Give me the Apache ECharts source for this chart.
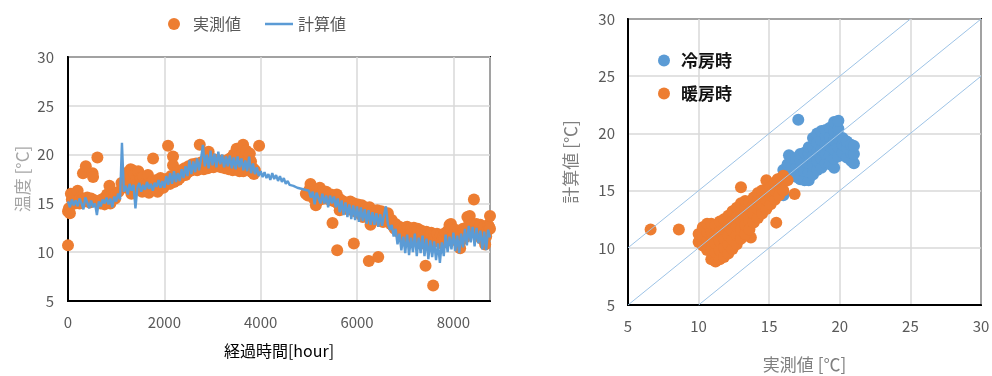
<!DOCTYPE html>
<html>
<head>
<meta charset="utf-8">
<script src="https://cdn.jsdelivr.net/npm/echarts@6/dist/echarts.min.js"></script>
<style>
  html, body { margin: 0; padding: 0; background: #fff; }
  #main { width: 992px; height: 376px; }
</style>
</head>
<body>
<div id="main"></div>
<script>
// 左: 経過時間ごとの温度
var calcStep = 40; // 計算値の時間間隔[hour]
var calcTemp = [
  15.2, 14.6, 15.4, 14.8, 15.3, 14.7, 15.5, 15.0, 14.4, 15.6,
  15.1, 14.5, 15.3, 14.6, 15.0, 13.8, 15.2, 14.7, 15.4, 15.0,
  15.6, 14.9, 15.5, 14.6, 15.7, 15.2, 16.0, 15.4, 21.2, 16.2,
  16.8, 15.9, 17.0, 16.3, 16.9, 14.5, 16.6, 17.1, 16.2, 16.9,
  16.4, 17.2, 16.5, 17.0, 16.3, 17.1, 16.7, 17.4, 16.6, 17.3,
  16.6, 17.8, 16.9, 18.1, 17.0, 18.3, 17.2, 18.1, 17.3, 18.5,
  17.6, 18.8, 17.8, 19.4, 18.0, 19.3, 18.2, 19.6, 18.4, 19.5,
  21.0, 18.8, 20.0, 18.6, 20.4, 18.9, 20.1, 18.7, 20.3, 19.0,
  20.0, 18.7, 19.8, 18.8, 19.9, 18.6, 19.7, 18.5, 19.8, 18.7,
  19.6, 18.4, 19.4, 18.3, 19.8, 18.1, 19.1, 18.0, 18.7, 17.8,
  18.3, 17.7, 18.2, 17.6, 18.0, 17.4, 18.1, 17.5, 17.9, 17.3,
  17.8, 17.2, 17.6, 17.0, 17.3, 16.9, 16.8, 16.8, 16.7, 16.6,
  16.6, 16.5, 16.5, 16.4, 16.3, 16.3, 15.6, 16.2, 14.9, 16.1,
  15.9, 15.0, 16.0, 15.0, 15.8, 14.6, 15.8, 15.0, 15.7, 14.6,
  15.5, 14.1, 15.3, 13.8, 15.1, 13.6, 14.9, 13.4, 14.8, 13.3,
  14.7, 13.1, 14.6, 13.2, 14.4, 12.9, 14.3, 12.8, 14.1, 12.8,
  14.0, 12.6, 13.9, 12.7, 13.8, 14.7, 12.9, 12.3, 12.8, 11.6,
  12.4, 10.8, 11.9, 10.2, 11.6, 9.9, 11.8, 9.7, 11.5, 10.0,
  11.9, 9.6, 11.5, 9.9, 11.7, 9.6, 11.4, 9.3, 11.2, 9.5,
  11.1, 9.2, 10.9, 8.9, 11.0, 9.6, 11.8, 10.0, 11.6, 10.3,
  12.0, 10.1, 11.7, 9.9, 11.9, 10.5, 12.4, 10.7, 12.7, 11.0,
  12.6, 10.6, 12.5, 10.9, 12.2, 10.3, 12.1, 10.2, 12.3, 11.5
];

// 実測値 [hour, ℃]
var measured = [
  [0,14.2],[0,10.7],[20,14.5],[40,14.0],[60,16.0],[80,15.4],[100,15.2],[120,15.9],[140,15.0],
  [160,15.6],[180,15.4],[200,16.3],[240,15.0],[260,15.6],[300,15.4],[311,18.1],[340,15.2],
  [370,18.8],[400,15.6],[420,15.3],[450,15.1],[480,15.5],[510,18.1],[520,17.7],[560,15.3],
  [600,15.2],[610,19.7],[650,15.1],[680,15.0],[700,15.4],[740,15.5],[760,14.9],[810,15.9],
  [840,15.6],[860,16.8],[880,15.0],[900,15.3],[920,15.8],[950,15.6],[980,15.5],
  [1000,16.0],[1050,16.2],[1109,17.1],[1150,16.8],[1200,17.5],[1220,16.6],[1240,18.2],
  [1260,17.0],[1280,17.9],[1300,18.5],[1316,16.0],[1340,18.4],[1360,17.1],[1380,18.0],
  [1400,16.5],[1420,17.4],[1440,17.0],[1460,18.3],[1480,16.8],[1500,17.6],[1520,17.5],
  [1540,16.2],[1560,17.7],[1580,17.0],[1600,16.4],[1620,16.5],[1640,16.9],[1660,17.9],
  [1680,16.1],[1700,16.3],[1720,16.5],[1740,17.2],[1766,19.6],[1780,16.4],[1800,16.6],
  [1820,16.9],[1840,17.4],[1860,16.2],[1880,16.8],[1900,16.5],[1920,17.6],[1940,16.7],
  [1960,17.2],[1980,16.6],
  [2000,17.0],[2020,16.9],[2040,17.5],[2060,17.2],[2077,20.9],[2100,17.3],[2120,17.0],
  [2140,17.8],[2160,17.4],[2180,19.8],[2180,18.9],[2200,17.2],[2220,17.6],[2240,17.5],
  [2260,18.2],[2280,17.4],[2300,17.9],[2320,17.6],[2340,18.4],[2360,17.8],[2380,18.1],
  [2400,17.9],[2420,18.6],[2440,17.9],[2460,18.3],[2480,18.2],[2500,18.8],[2520,18.3],
  [2540,18.4],[2560,18.4],[2580,19.0],[2600,18.5],[2620,18.6],[2640,18.5],[2660,19.1],
  [2680,18.4],[2700,18.7],[2720,18.6],[2735,21.0],[2760,19.2],[2780,18.6],[2800,18.9],
  [2820,18.5],[2840,19.4],[2860,18.7],[2880,18.8],[2900,18.6],[2920,20.3],[2940,18.7],
  [2960,19.2],[2980,18.8],[3000,18.9],[3020,18.7],[3040,19.5],[3060,18.9],[3080,19.0],
  [3100,18.8],[3120,19.3],[3140,18.8],[3160,18.9],[3180,18.7],[3200,19.4],[3220,18.8],
  [3240,19.0],[3260,18.6],[3280,19.3],[3300,18.7],[3320,18.8],[3340,18.5],[3360,19.6],
  [3380,18.7],[3400,19.2],[3420,18.4],[3440,20.0],[3460,18.6],[3480,18.7],[3500,20.6],
  [3520,18.5],[3540,19.8],[3560,18.3],[3580,18.4],[3600,19.5],[3620,20.2],[3635,21.0],
  [3640,18.3],[3660,19.0],[3680,19.8],[3700,20.4],[3720,18.6],[3740,18.5],[3760,19.4],
  [3775,20.1],[3800,19.3],[3820,18.2],[3840,18.6],[3860,18.0],[3880,18.4],[3967,20.9],
  [4937,16.0],[4980,15.8],[5010,16.4],[5034,17.0],[5060,16.6],[5080,16.2],[5100,15.5],
  [5120,15.9],[5145,14.8],[5160,15.8],[5180,16.3],[5200,16.0],[5228,16.6],[5240,15.4],
  [5260,15.6],[5280,16.3],[5300,16.1],[5320,15.5],[5340,15.8],[5360,16.2],[5380,16.0],
  [5400,15.9],[5420,15.4],[5440,15.8],[5460,15.9],[5480,15.3],[5491,13.0],[5520,15.5],
  [5540,15.2],[5560,15.7],[5580,15.9],[5588,10.2],[5600,15.0],[5620,15.5],[5640,14.3],
  [5660,14.8],[5680,15.3],[5700,15.2],[5720,14.8],[5740,14.6],[5760,15.1],[5780,15.0],
  [5800,14.4],[5820,14.7],[5840,14.9],[5860,15.2],[5880,14.6],[5900,14.3],[5920,14.8],
  [5934,10.9],[5940,15.0],[5960,14.2],[5980,14.5],[6000,14.7],[6020,14.9],[6040,14.0],
  [6060,14.3],[6080,14.5],[6100,14.8],[6120,13.6],[6140,14.2],[6160,14.6],[6180,14.5],
  [6200,13.9],[6220,13.6],[6240,14.3],[6245,9.1],[6260,14.6],[6280,12.8],[6300,13.4],
  [6320,14.2],[6340,14.0],[6360,13.5],[6380,13.7],[6400,14.1],[6420,14.3],[6440,9.5],
  [6440,13.3],[6460,13.6],[6480,13.9],[6500,14.2],[6520,13.4],[6540,13.1],[6560,13.8],
  [6580,14.0],[6600,13.6],[6620,13.9],[6640,14.0],[6660,13.5],[6680,13.2],[6700,12.9],
  [6720,13.3],[6740,13.0],[6760,12.6],[6780,12.4],[6800,12.9],[6820,12.7],[6840,12.3],
  [6860,12.1],[6880,12.6],[6900,12.4],[6920,11.8],[6940,12.0],[6960,12.4],[6980,12.5],
  [7000,11.6],[7020,12.1],[7040,12.6],[7060,12.3],[7080,11.9],[7100,11.7],[7120,12.4],
  [7140,12.0],[7160,11.4],[7180,12.5],[7200,12.3],[7220,11.6],[7240,11.8],[7260,12.4],
  [7280,12.2],[7300,11.7],[7320,10.9],[7340,12.2],[7360,12.0],[7380,11.8],[7400,11.5],
  [7420,12.0],[7422,8.6],[7440,12.1],[7460,11.8],[7480,11.3],[7500,11.6],[7520,11.9],
  [7540,12.0],[7560,11.0],[7580,6.6],[7600,11.8],[7620,11.2],[7640,11.5],[7660,11.9],
  [7680,11.1],[7700,11.3],[7720,11.6],[7740,11.8],[7760,10.9],[7780,11.4],[7800,11.7],
  [7820,11.3],[7840,12.0],[7860,11.9],[7880,11.2],[7900,12.3],[7920,12.8],[7940,11.4],
  [7950,12.9],[7960,12.4],[7980,11.6],[8000,11.8],[8020,12.0],[8040,12.3],[8060,11.2],
  [8080,11.7],[8100,12.1],[8120,11.9],[8140,10.4],[8160,11.2],[8180,11.6],[8200,12.4],
  [8220,12.2],[8240,11.5],[8260,11.9],[8280,12.4],[8290,13.6],[8320,12.8],[8340,13.7],
  [8360,12.2],[8380,12.5],[8400,12.9],[8426,15.4],[8440,12.4],[8460,12.8],[8480,12.9],
  [8500,12.3],[8520,12.1],[8540,12.6],[8560,12.8],[8580,11.4],[8600,12.0],[8620,12.5],
  [8640,12.6],[8660,10.8],[8680,11.6],[8700,12.2],[8720,12.8],[8740,12.6],[8760,13.7],
  [8760,12.4]
];

// 右: 実測値 vs 計算値 [℃]
var coolPts = [
  [16.0,14.6],[17.06,21.2],
  [16.0,16.2],[16.0,16.8],[16.3,16.5],[16.3,17.3],[16.4,18.1],[16.6,16.3],[16.6,17.1],
  [16.6,17.9],[16.9,16.2],[16.9,17.0],[16.9,17.8],[17.2,16.0],[17.2,16.8],[17.2,17.6],
  [17.2,18.2],[17.5,15.9],[17.5,16.7],[17.5,17.5],[17.5,18.3],[17.8,15.9],[17.8,16.6],
  [17.8,17.4],[17.8,18.2],[17.8,18.8],[18.1,16.4],[18.1,17.2],[18.1,18.0],[18.1,18.8],
  [18.1,19.6],[18.4,16.8],[18.4,17.6],[18.4,18.4],[18.4,19.2],[18.4,20.0],[18.7,17.0],
  [18.7,17.8],[18.7,18.6],[18.7,19.4],[18.7,20.2],[19.0,17.4],[19.0,18.2],[19.0,19.0],
  [19.0,19.8],[19.0,20.3],[19.3,17.3],[19.3,18.1],[19.3,18.9],[19.3,19.7],[19.3,20.5],
  [19.6,17.0],[19.6,17.8],[19.6,18.6],[19.6,19.4],[19.6,20.2],[19.6,21.0],[19.9,18.0],
  [19.9,18.8],[19.9,19.6],[19.9,20.4],[19.9,21.1],[20.2,18.3],[20.2,19.0],[20.2,19.6],
  [20.5,17.9],[20.5,18.7],[20.5,19.3],[20.8,17.6],[20.8,18.3],[20.8,19.0],[21.0,17.4],
  [21.0,18.2],[21.0,18.9]
];
var heatPts = [
  [6.6,11.6],[8.6,11.6],[13.0,15.3],[15.5,12.2],[13.7,10.9],[16.8,14.7],[14.8,15.9],
  [10.0,10.5],[10.0,11.2],[10.3,10.2],[10.3,11.0],[10.3,11.8],[10.6,9.8],[10.6,10.6],
  [10.6,11.4],[10.6,12.1],[10.9,9.0],[10.9,9.8],[10.9,10.6],[10.9,11.4],[10.9,12.1],
  [11.2,8.8],[11.2,9.6],[11.2,10.4],[11.2,11.2],[11.2,12.0],[11.5,9.0],[11.5,9.8],
  [11.5,10.6],[11.5,11.4],[11.5,12.3],[11.8,9.2],[11.8,10.0],[11.8,10.8],[11.8,11.6],
  [11.8,12.5],[12.1,9.5],[12.1,10.3],[12.1,11.1],[12.1,11.9],[12.1,12.8],[12.4,9.9],
  [12.4,10.7],[12.4,11.5],[12.4,12.3],[12.4,13.2],[12.7,10.3],[12.7,11.1],[12.7,11.9],
  [12.7,12.7],[12.7,13.5],[13.0,10.8],[13.0,11.6],[13.0,12.4],[13.0,13.2],[13.0,13.9],
  [13.3,11.2],[13.3,12.0],[13.3,12.8],[13.3,13.6],[13.3,14.1],[13.6,11.6],[13.6,12.4],
  [13.6,13.2],[13.6,14.0],[13.9,12.2],[13.9,13.0],[13.9,13.8],[13.9,14.4],[14.2,12.6],
  [14.2,13.4],[14.2,14.2],[14.2,14.8],[14.5,13.0],[14.5,13.8],[14.5,14.6],[14.5,15.0],
  [14.8,13.4],[14.8,14.2],[14.8,15.0],[15.1,13.8],[15.1,14.6],[15.1,15.3],[15.4,14.2],
  [15.4,15.0],[15.4,15.7],[15.7,14.6],[15.7,15.4],[15.7,16.0],[16.0,15.0],[16.0,15.8],
  [16.0,16.3],[16.3,15.9],[15.6,16.0]
];
var refOffsets = [5, 0, -5]; // y = x + offset の基準線

var leftTicks = [0, 2000, 4000, 6000, 8000];

// 計算値を [hour, ℃] に
var calcData = calcTemp.map(function (v, i) { return [i * calcStep, v]; });

// 基準線（軸範囲 5〜30 でクリップ）
function refLine(off) {
  var x0 = Math.max(5, 5 - off), x1 = Math.min(30, 30 - off);
  return [[x0, x0 + off], [x1, x1 + off]];
}

var tickFont = { color: '#595959', fontSize: 15, fontFamily: 'Noto Sans CJK JP' };
var gridLine = { show: true, lineStyle: { color: '#D9D9D9', width: 1.5 } };
var blackLine = { show: true, lineStyle: { color: '#000', width: 2 } };

var dom = echarts.init(document.getElementById('main'));

var option = {
  backgroundColor: '#fff',
  animation: false,
  textStyle: { fontFamily: 'Noto Sans CJK JP' },
  legend: [{
    data: [{ name: '実測値', icon: 'circle' }],
    left: 168, top: 16, padding: 0,
    itemWidth: 28, itemHeight: 12,
    textStyle: { color: '#595959', fontSize: 16 }
  }, {
    data: [{ name: '計算値', icon: 'rect' }],
    left: 265, top: 16, padding: 0,
    itemWidth: 28, itemHeight: 2.5,
    textStyle: { color: '#595959', fontSize: 16 }
  }, {
    data: [{ name: '冷房時', icon: 'circle' }, { name: '暖房時', icon: 'circle' }],
    orient: 'vertical',
    left: 658, top: 52, padding: 0,
    itemWidth: 24, itemHeight: 12, itemGap: 16,
    textStyle: { color: '#111', fontSize: 17, fontWeight: 'bold' }
  }],
  grid: [
    { left: 68, top: 57, width: 422, height: 244, show: true, borderColor: '#000', borderWidth: 2,
      outerBoundsMode: 'none', containLabel: false },
    { left: 628, top: 19, width: 353, height: 286, show: true, borderColor: '#000', borderWidth: 2,
      outerBoundsMode: 'none', containLabel: false }
  ],
  xAxis: [{
    gridIndex: 0, type: 'value', min: 0, max: 8760, interval: 2000,
    name: '経過時間[hour]', nameLocation: 'middle', nameGap: 42,
    nameTextStyle: { color: '#000', fontSize: 16 },
    axisLine: blackLine, axisTick: { show: false },
    axisLabel: Object.assign({ margin: 14, showMaxLabel: false,
      formatter: function (v) { return leftTicks.indexOf(v) >= 0 ? v : ''; } }, tickFont),
    splitLine: gridLine
  }, {
    gridIndex: 1, type: 'value', min: 5, max: 30, interval: 5,
    name: '実測値 [℃]', nameLocation: 'middle', nameGap: 51,
    nameTextStyle: { color: '#7F7F7F', fontSize: 17 },
    axisLine: blackLine, axisTick: { show: false },
    axisLabel: Object.assign({ margin: 14 }, tickFont),
    splitLine: gridLine
  }],
  yAxis: [{
    gridIndex: 0, type: 'value', min: 5, max: 30, interval: 5,
    name: '温度 [°C]', nameLocation: 'middle', nameGap: 37,
    nameTextStyle: { color: '#A6A6A6', fontSize: 17 },
    axisLine: blackLine, axisTick: { show: false },
    axisLabel: Object.assign({ margin: 14 }, tickFont),
    splitLine: gridLine
  }, {
    gridIndex: 1, type: 'value', min: 5, max: 30, interval: 5,
    name: '計算値 [℃]', nameLocation: 'middle', nameGap: 49,
    nameTextStyle: { color: '#7F7F7F', fontSize: 17 },
    axisLine: blackLine, axisTick: { show: false },
    axisLabel: Object.assign({ margin: 13 }, tickFont),
    splitLine: gridLine
  }],
  series: [{
    name: '実測値', type: 'scatter', xAxisIndex: 0, yAxisIndex: 0,
    symbolSize: 12, itemStyle: { color: '#ED7D31', opacity: 1 },
    data: measured, z: 2
  }, {
    name: '計算値', type: 'line', xAxisIndex: 0, yAxisIndex: 0,
    symbol: 'none', lineStyle: { color: '#5B9BD5', width: 2.4 }, itemStyle: { color: '#5B9BD5' },
    data: calcData, z: 3
  }, {
    name: '冷房時', type: 'scatter', xAxisIndex: 1, yAxisIndex: 1,
    symbolSize: 12, itemStyle: { color: '#5B9BD5', opacity: 1 },
    data: coolPts, z: 2
  }, {
    name: '暖房時', type: 'scatter', xAxisIndex: 1, yAxisIndex: 1,
    symbolSize: 12, itemStyle: { color: '#ED7D31', opacity: 1 },
    data: heatPts, z: 3
  }].concat(refOffsets.map(function (off) {
    return {
      type: 'line', xAxisIndex: 1, yAxisIndex: 1, silent: true,
      symbol: 'none', lineStyle: { color: '#9DC3E6', width: 1 },
      data: refLine(off), z: 4
    };
  }))
};

dom.setOption(option);
</script>
</body>
</html>
